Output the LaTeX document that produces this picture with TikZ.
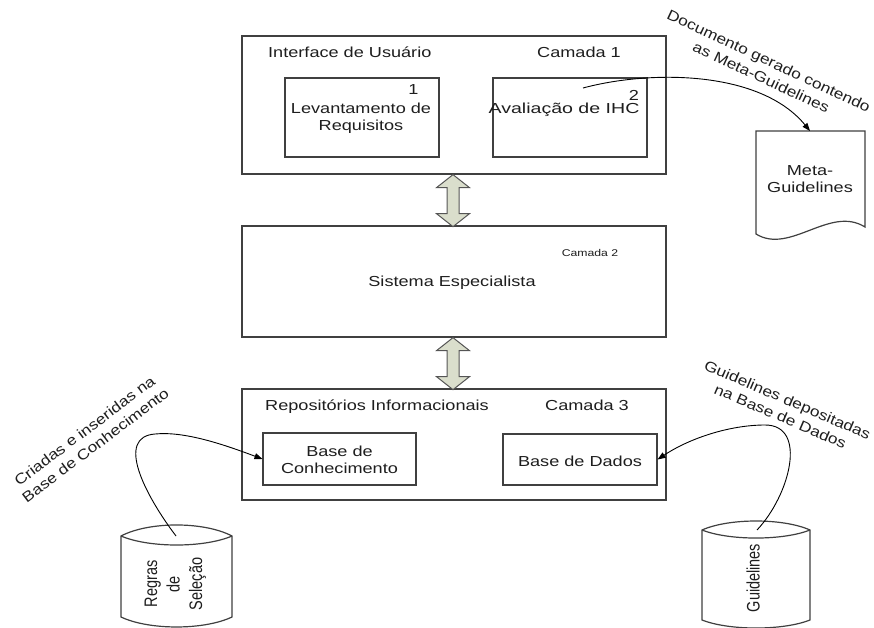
\documentclass[tikz,border=0pt]{standalone}
\usepackage{fontspec}
\usepackage{graphicx}
\newfontfamily\widesans{Liberation Sans}[FakeStretch=1.25]
\newfontfamily\diagsans{Liberation Sans}[FakeStretch=1.19]
\newfontfamily\plainsans{Liberation Sans}
\usetikzlibrary{arrows.meta}

\definecolor{linegray}{RGB}{64,64,64}
\definecolor{inkgray}{RGB}{30,30,30}
\definecolor{arrowfill}{RGB}{218,222,204}
\definecolor{arrowline}{RGB}{85,85,85}

\tikzset{
  layerbox/.style={draw=linegray, line width=1.3pt, inner sep=0pt, fill=white},
  innerbox/.style={draw=linegray, line width=1.1pt, inner sep=0pt},
  txt/.style={inner sep=0pt, text=inkgray, font=\widesans\fontsize{14.5}{17.5}\selectfont},
  twoline/.style={txt, align=center},
  smalltxt/.style={inner sep=0pt, text=inkgray, font=\widesans\fontsize{9.8}{12}\selectfont},
  diagtxt/.style={inner sep=0pt, text=inkgray, align=center, font=\diagsans\fontsize{14.5}{18}\selectfont},
  cyltxt/.style={inner sep=0pt, text=inkgray, rotate=90, font=\plainsans\fontsize{14.5}{18}\selectfont},
  link/.style={draw=black, line width=0.9pt, -{Triangle[length=8pt,width=6pt]}},
  dblarr/.style={draw=arrowline, line width=1pt, fill=arrowfill, line join=miter},
  cylshape/.style={draw=linegray, line width=1.2pt, fill=white},
  docshape/.style={draw=linegray, line width=1.2pt, fill=white},
}

% vertical double arrow between two layers, 52 units long
\newcommand{\layerlink}[1]{%
  \draw[dblarr] #1 -- ++(16.5,13) -- ++(-10.5,0) -- ++(0,26) -- ++(10.5,0)
    -- ++(-16.5,13) -- ++(-16.5,-13) -- ++(10.5,0) -- ++(0,-26) -- ++(-10.5,0) -- cycle;}
% text standing on its side inside a store, widened across its lines
\newcommand{\sidetext}[1]{\scalebox{1}[1.25]{\begin{tabular}{@{}c@{}}#1\end{tabular}}}

\begin{document}
\begin{tikzpicture}[x=1pt, y=-1pt]
\useasboundingbox (0,0) rectangle (874,628);

% ---------- layer 1 ----------
\node[layerbox, minimum width=424pt, minimum height=138pt] (ui) at (454,105) {};
\node[txt, anchor=base west] (uititle) at (268,58) {Interface de Usuário};
\node[txt, anchor=base west] (cam1) at (537,58) {Camada 1};
\node[innerbox, minimum width=154pt, minimum height=79pt] (lev) at (362,117.5) {};
\node[innerbox, minimum width=154pt, minimum height=79pt] (aval) at (570,117.5) {};
\node[txt, anchor=base] (num1) at (413.5,95) {1};
\node[twoline] (levtxt) at (361,118.5) {Levantamento de\\Requisitos};
\node[txt, anchor=base] (num2) at (634,101) {2};
\node[txt, anchor=base] (avaltxt) at (564,114) {\scalebox{1.08}[1]{Avaliação de IHC}};

% ---------- layer 2 ----------
\node[layerbox, minimum width=424pt, minimum height=111pt] (se) at (454,281.5) {};
\node[smalltxt, anchor=base] (cam2) at (590,256.5) {Camada 2};
\node[txt, anchor=base] (setxt) at (452,286) {Sistema Especialista};

% ---------- layer 3 ----------
\node[layerbox, minimum width=424pt, minimum height=111pt] (rep) at (454,444.5) {};
\node[txt, anchor=base west] (reptitle) at (265,410) {Repositórios Informacionais};
\node[txt, anchor=base west] (cam3) at (545,410) {Camada 3};
\node[innerbox, minimum width=153pt, minimum height=52pt] (bc) at (339.5,459) {};
\node[innerbox, minimum width=154pt, minimum height=51pt] (bd) at (580,459.5) {};
\node[twoline] (bctxt) at (339.5,460) {Base de\\Conhecimento};
\node[txt, anchor=base] (bdtxt) at (580,466) {Base de Dados};

% ---------- links between layers ----------
\path (ui.south) ++(-1,0) coordinate (uiS);
\path (se.south) ++(-1,0) coordinate (seS);
\layerlink{(uiS)}
\layerlink{(seS)}

% ---------- generated document ----------
\draw[docshape] (756,131) -- (865,131) -- (865,227)
  .. controls (830,205) and (790,255) .. (756,234) -- cycle;
\coordinate (doctop) at (810,131);
\node[twoline] (metatxt) at (810,179) {Meta-\\Guidelines};
\coordinate (avstart) at (583,88);
\draw[link] (avstart) .. controls (650,70) and (760,70) .. (doctop);
\node[diagtxt, rotate=-25] (doclbl) at (765,69) {Documento gerado contendo\\as Meta-Guidelines};

% ---------- rule store ----------
\draw[cylshape] (121,536) .. controls (149,521.3) and (204,521.3) .. (232,536)
  -- (232,617) .. controls (204,630.3) and (149,630.3) .. (121,617) -- cycle;
\draw[cylshape, fill=none] (121,536) .. controls (149,548) and (204,548) .. (232,536);
\coordinate (lensL) at (176,536);
\node[cyltxt] (regras) at (175,584) {\sidetext{Regras\\de\\Seleção}};
\coordinate (turnL) at (155,434);
\draw[link] (lensL) .. controls (145,495) and (115,437) .. (turnL)
  .. controls (185,431) and (225,445) .. (bc.west);
\node[diagtxt, rotate=37] (crlbl) at (90,438) {Criadas e inseridas na\\Base de Conhecimento};

% ---------- guideline store ----------
\draw[cylshape] (702,530) .. controls (729,518) and (783,518) .. (810,530)
  -- (810,620) .. controls (783,630.7) and (729,630.7) .. (702,620) -- cycle;
\draw[cylshape, fill=none] (702,530) .. controls (729,540.7) and (783,540.7) .. (810,530);
\coordinate (lensR) at (757,530);
\node[cyltxt] (guide) at (755,578) {\sidetext{Guidelines}};
\coordinate (turnR) at (765,425);
\draw[link] (lensR) .. controls (790,495) and (808,425) .. (turnR)
  .. controls (730,425) and (690,438) .. (bd.east);
\node[diagtxt, rotate=-23.2] (gdlbl) at (784,408) {Guidelines depositadas\\na Base de Dados};

\end{tikzpicture}
\end{document}
